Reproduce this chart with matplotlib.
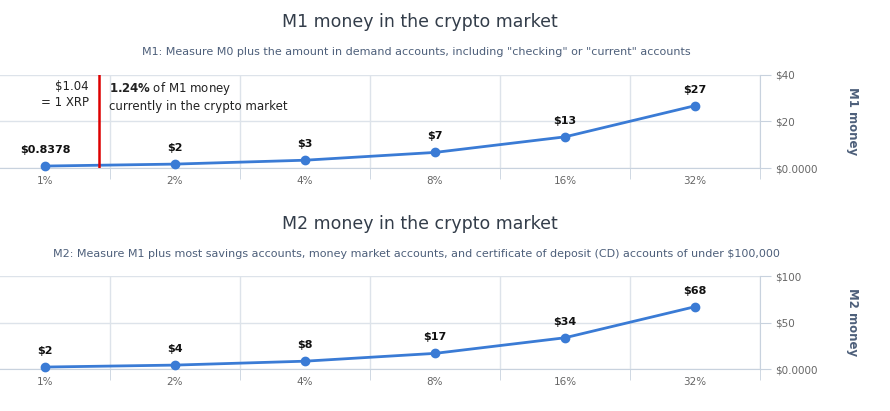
import matplotlib
matplotlib.use("Agg")
import matplotlib.pyplot as plt

categories = ["1%", "2%", "4%", "8%", "16%", "32%"]
m1_values = [0.8378, 1.68, 3.35, 6.7, 13.4, 26.8]
m1_labels = ["$0.8378", "$2", "$3", "$7", "$13", "$27"]
m2_values = [2.1, 4.2, 8.4, 16.8, 33.6, 67.0]
m2_labels = ["$2", "$4", "$8", "$17", "$34", "$68"]
m1_ticks = [0, 20, 40]
m1_ticklabels = ["$0.0000", "$20", "$40"]
m2_ticks = [0, 50, 100]
m2_ticklabels = ["$0.0000", "$50", "$100"]
marker_pos = 0.415  # 1.24% position on category axis

plt.rcParams["font.family"] = "DejaVu Sans"
fig = plt.figure(figsize=(8.9, 4.11), dpi=100)
W, H = 890, 411
blue = "#3a7bd5"
grid = "#dde3ea"
tc = "#666666"

def panel(top, bottom, vals, labels, ticks, tlabels, ylabel, title, subtitle, ty, sy):
    ax = fig.add_axes([0, 1 - bottom / H, 760 / W, (bottom - top) / H])
    x = list(range(len(vals)))
    ax.plot(x, vals, color=blue, lw=2, marker="o", ms=6, zorder=3, clip_on=False)
    for xi, v, l in zip(x, vals, labels):
        ax.annotate(l, (xi, v), xytext=(0, 8), textcoords="offset points",
                    ha="center", va="bottom", fontsize=8, fontweight="bold", color="#111111")
    ax.set_xlim(-0.346, 5.5)
    ax.set_ylim(ticks[0], ticks[-1])
    ax.set_xticks(x)
    ax.set_xticklabels(categories)
    ax.set_xticks([i + 0.5 for i in range(len(vals))], minor=True)
    ax.tick_params(axis="x", which="major", length=0, labelsize=7.5, labelcolor=tc, pad=6)
    ax.tick_params(axis="x", which="minor", length=8, color="#c8d2de")
    ax.xaxis.grid(True, which="minor", color=grid, lw=1)
    ax.yaxis.tick_right()
    ax.yaxis.set_label_position("right")
    ax.set_yticks(ticks)
    ax.set_yticklabels(tlabels)
    ax.tick_params(axis="y", length=8, color="#c8d2de", labelsize=7.5, labelcolor=tc, pad=3)
    ax.yaxis.grid(True, color=grid, lw=1)
    ax.set_axisbelow(True)
    for s in ["top", "left"]:
        ax.spines[s].set_visible(False)
    ax.spines["bottom"].set_color("#c8d2de")
    ax.spines["right"].set_color("#c8d2de")
    ax.set_ylabel(ylabel, rotation=270, fontsize=8.5, fontweight="bold", color="#4d5f7a", labelpad=30)
    fig.text(420 / W, 1 - ty / H, title, ha="center", va="center", fontsize=12.5, color="#333d4a")
    fig.text(416 / W, 1 - sy / H, subtitle, ha="center", va="center", fontsize=8, color="#4d5f7a")
    return ax

ax1 = panel(75, 168, m1_values, m1_labels, m1_ticks, m1_ticklabels, "M1 money",
            "M1 money in the crypto market",
            'M1: Measure M0 plus the amount in demand accounts, including "checking" or "current" accounts',
            22, 52)
ax1.axvline(marker_pos, color="#dd0000", lw=1.8, zorder=4)
ax1.text(marker_pos - 0.08, 38, "$1.04\n= 1 XRP", ha="right", va="top", fontsize=8.5, color="#222222",
         multialignment="right", linespacing=1.3)
ax1.text(marker_pos + 0.08, 38, r"$\bf{1.24\%}$ of M1 money" + "\ncurrently in the crypto market",
         ha="left", va="top", fontsize=8.5, color="#222222", linespacing=1.3)

panel(276, 369, m2_values, m2_labels, m2_ticks, m2_ticklabels, "M2 money",
      "M2 money in the crypto market",
      "M2: Measure M1 plus most savings accounts, money market accounts, and certificate of deposit (CD) accounts of under $100,000",
      224, 254)

fig.savefig("out.png", dpi=100)
